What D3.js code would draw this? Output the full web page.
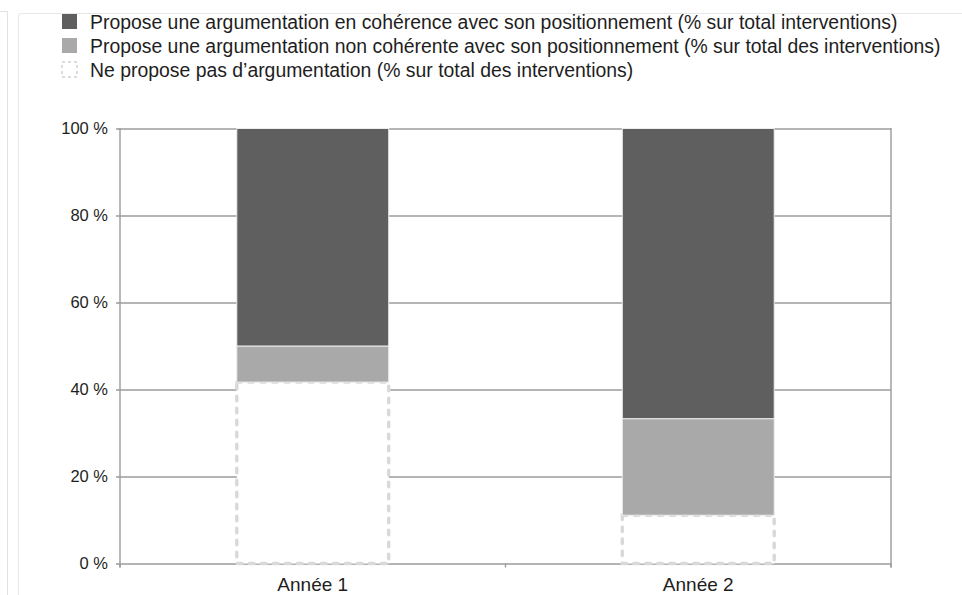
<!DOCTYPE html>
<html>
<head>
<meta charset="utf-8">
<script src="https://cdn.jsdelivr.net/npm/d3@7"></script>
<style>
  html, body { margin: 0; padding: 0; background: #fff; }
  svg { display: block; font-family: "Liberation Sans", Arial, Helvetica, sans-serif; }
</style>
</head>
<body>
<svg id="chart" width="962" height="595"></svg>
<script>
// Categories (school years)
const categories = ["Année 1", "Année 2"];

// Series, stacked bottom to top (% of interventions)
const seriesNames = [
  "Ne propose pas d\u2019argumentation (% sur total des interventions)",
  "Propose une argumentation non cohérente avec son positionnement (% sur total des interventions)",
  "Propose une argumentation en cohérence avec son positionnement (% sur total interventions)"
];
const noArgument = [41.7, 11.1];
const incoherentArgument = [8.3, 22.2];
const coherentArgument = [50.0, 66.7];

// Y axis ticks
const yTicks = [0, 20, 40, 60, 80, 100];
const yTickLabels = ["0 %", "20 %", "40 %", "60 %", "80 %", "100 %"];

// Legend order (top to bottom)
const legendOrder = [2, 1, 0];

const svg = d3.select("#chart");

const plot = { left: 120, right: 891, top: 128.5, bottom: 563.5 };
const fills = ["#ffffff", "#a9a9a9", "#5f5f5f"];
const gridColor = "#9b9b9b";

// Outer panel frames
svg.append("path")
  .attr("d", "M0,11.5H7.5V595")
  .attr("fill", "none").attr("stroke", "#e2e2e2").attr("stroke-width", 1);
svg.append("rect")
  .attr("x", 18.5).attr("y", 13.5).attr("width", 960).attr("height", 600).attr("rx", 3)
  .attr("fill", "none").attr("stroke", "#e6e6e6").attr("stroke-width", 1);

const x = d3.scaleBand().domain(categories).range([plot.left, plot.right]).padding(0);
const y = d3.scaleLinear().domain([0, 100]).range([plot.bottom, plot.top]);
const barW = x.bandwidth() * 0.394;

// Horizontal gridlines with outer ticks
const yAxis = d3.axisLeft(y).tickValues(yTicks)
  .tickSize(-(plot.right - plot.left)).tickSizeOuter(0)
  .tickFormat((d, i) => yTickLabels[i]).tickPadding(12);
const gy = svg.append("g").attr("transform", `translate(${plot.left},0)`).call(yAxis);
gy.select(".domain").remove();
gy.selectAll(".tick line")
  .attr("x1", -4)
  .attr("stroke", gridColor).attr("stroke-width", 1.4);
gy.selectAll(".tick text")
  .attr("fill", "#1e1e1e").attr("font-size", 16.5).attr("x", -12);

// Vertical frame lines of the plot
[plot.left, plot.right].forEach(px => {
  svg.append("line")
    .attr("x1", px).attr("x2", px).attr("y1", plot.top - 0.5).attr("y2", plot.bottom + 4)
    .attr("stroke", gridColor).attr("stroke-width", 1.4);
});

// Category axis: ticks at band boundaries, labels centered
const bounds = categories.map(c => x(c)).concat([plot.right]);
svg.selectAll(".cat-tick").data(bounds).join("line")
  .attr("class", "cat-tick")
  .attr("x1", d => d).attr("x2", d => d)
  .attr("y1", plot.bottom).attr("y2", plot.bottom + 4)
  .attr("stroke", gridColor).attr("stroke-width", 1.4);
svg.selectAll(".cat-label").data(categories).join("text")
  .attr("class", "cat-label")
  .attr("x", d => x(d) + x.bandwidth() / 2)
  .attr("y", plot.bottom + 27)
  .attr("text-anchor", "middle")
  .attr("font-size", 19).attr("fill", "#1e1e1e")
  .text(d => d);

// Stacked bars
const rows = categories.map((c, i) => ({
  cat: c, s0: noArgument[i], s1: incoherentArgument[i], s2: coherentArgument[i]
}));
const stack = d3.stack().keys(["s0", "s1", "s2"])(rows);

stack.forEach((layer, li) => {
  const g = svg.append("g");
  g.selectAll("rect").data(layer).join("rect")
    .attr("x", d => x(d.data.cat) + (x.bandwidth() - barW) / 2)
    .attr("width", barW)
    .attr("y", d => y(d[1]))
    .attr("height", d => y(d[0]) - y(d[1]))
    .attr("fill", fills[li])
    .attr("stroke", li === 0 ? "#d9d9d9" : "#ececec")
    .attr("stroke-width", li === 0 ? 3.5 : 1)
    .attr("stroke-dasharray", li === 0 ? "4.5 7.5" : null)
    .attr("stroke-linecap", li === 0 ? "round" : null);
});

// Legend
const legend = svg.append("g");
legendOrder.forEach((si, k) => {
  const cy = 22 + k * 24;
  legend.append("rect")
    .attr("x", 62).attr("y", cy - 8).attr("width", 15).attr("height", 15)
    .attr("fill", fills[si])
    .attr("stroke", si === 0 ? "#dcdcdc" : "none")
    .attr("stroke-width", si === 0 ? 2 : 0)
    .attr("stroke-dasharray", si === 0 ? "3 3" : null);
  legend.append("text")
    .attr("x", 90).attr("y", cy + 7)
    .attr("font-size", 19.4).attr("fill", "#1e1e1e")
    .text(seriesNames[si]);
});
</script>
</body>
</html>
